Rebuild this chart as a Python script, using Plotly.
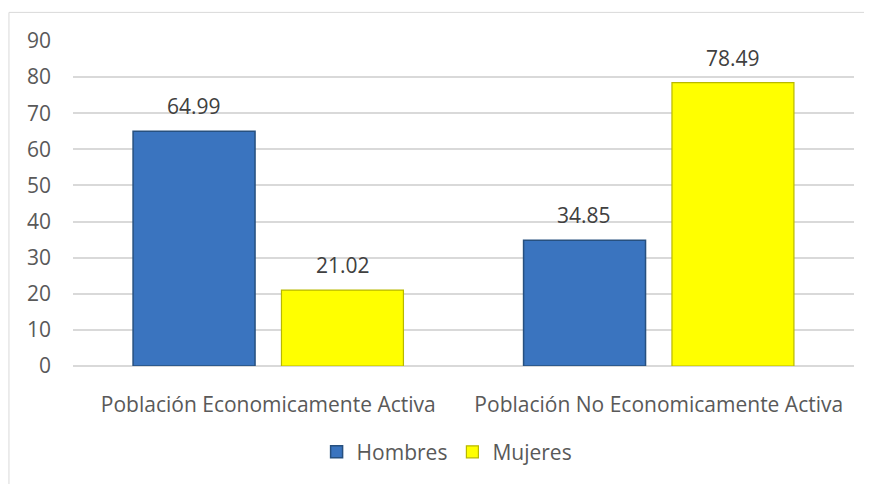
import plotly.graph_objects as go

categories = ["Población Economicamente Activa", "Población No Economicamente Activa"]
hombres = [64.99, 34.85]
mujeres = [21.02, 78.49]
series_names = ["Hombres", "Mujeres"]
y_ticks = [0, 10, 20, 30, 40, 50, 60, 70, 80, 90]

FONT = "Open Sans"
FS = 21
fig = go.Figure()
fig.add_trace(go.Bar(
    x=categories, y=hombres, name=series_names[0],
    marker=dict(color="#3a74bf", line=dict(color="#27507f", width=1.5)),
))
fig.add_trace(go.Bar(
    x=categories, y=mujeres, name=series_names[1],
    marker=dict(color="#ffff00", line=dict(color="#b8b800", width=1.2)),
))

# data labels
for vals, shift in ((hombres, -74.5), (mujeres, 74.5)):
    for c, v in zip(categories, vals):
        fig.add_annotation(x=c, y=v, text=f"{v:.2f}", showarrow=False,
                           xshift=shift, yshift=25, yanchor="middle",
                           font=dict(family=FONT, size=FS, color="#404040"))

# chart border (only top/left visible in the window)
fig.add_shape(type="rect", xref="paper", yref="paper",
              x0=-0.082, x1=1.2, y0=-0.6, y1=1.088,
              line=dict(color="#d9d9d9", width=1), fillcolor="rgba(0,0,0,0)", layer="below")

fig.update_layout(
    width=864, height=476,
    margin=dict(l=65, r=18, t=33, b=111),
    paper_bgcolor="white", plot_bgcolor="white",
    barmode="group", bargap=0.24, bargroupgap=0.178,
    font=dict(family=FONT, size=FS, color="#595959"),
    showlegend=True,
    legend=dict(orientation="h", x=0.479, xanchor="center", y=-0.265, yanchor="middle",
                font=dict(family=FONT, size=FS, color="#595959"),
                itemwidth=30, traceorder="normal"),
    xaxis=dict(showgrid=False, showline=False, ticks="", ticklabelstandoff=24,
               tickfont=dict(size=FS, color="#595959")),
    yaxis=dict(range=[0, 90], tickvals=y_ticks, showgrid=True, gridcolor="#d9d9d9", gridwidth=1.5,
               zeroline=True, zerolinecolor="#d9d9d9", zerolinewidth=1.5,
               showline=False, ticks="", ticklabelstandoff=21,
               tickfont=dict(size=FS, color="#595959")),
)
fig.write_html("out.html")
